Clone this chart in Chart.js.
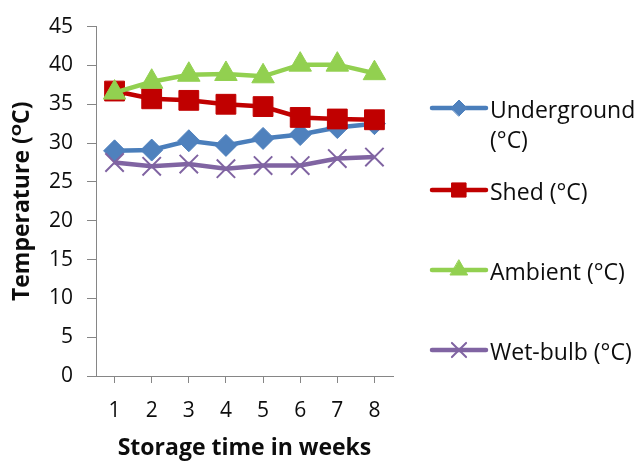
<!DOCTYPE html>
<html>
<head>
<meta charset="utf-8">
<script src="https://cdn.jsdelivr.net/npm/chart.js@4/dist/chart.umd.min.js"></script>
<style>
  html, body { margin: 0; padding: 0; background: #fff; }
  #wrap { width: 638px; height: 462px; }
</style>
</head>
<body>
<div id="wrap"><canvas id="c" width="638" height="462"></canvas></div>
<script>
// Storage temperatures per week
const weeks = ['1', '2', '3', '4', '5', '6', '7', '8'];
const underground = [29.0, 29.1, 30.3, 29.7, 30.6, 31.1, 32.0, 32.5];
const shed = [36.7, 35.7, 35.5, 35.0, 34.7, 33.3, 33.1, 33.0];
const ambient = [36.5, 37.9, 38.8, 38.9, 38.6, 40.1, 40.1, 39.0];
const wetBulb = [27.5, 27.0, 27.3, 26.7, 27.1, 27.1, 28.0, 28.2];
const seriesNames = ['Underground (°C)', 'Shed (°C)', 'Ambient (°C)', 'Wet-bulb (°C)'];
const legendLines = [['Underground', '(°C)'], ['Shed (°C)'], ['Ambient (°C)'], ['Wet-bulb (°C)']];
const yTitle = 'Temperature (ᴼC)';
const xTitle = 'Storage time in weeks';

const FONT = '"Open Sans", "DejaVu Sans", sans-serif';
const AXIS_GREY = '#868686';
const TEXT = '#0d0d0d';

const styles = [
  { line: '#4A7EBB', fill: '#4F81BD', point: 'rectRot', radius: 11, pointBorder: 1, legendRadius: 8 },
  { line: '#C00000', fill: '#C00000', point: 'rect', radius: 14, pointBorder: 1, legendRadius: 10 },
  { line: '#92D050', fill: '#92D050', point: 'triangle', radius: 13, pointBorder: 1, legendRadius: 10 },
  { line: '#8064A2', fill: '#8064A2', point: 'crossRot', radius: 13, pointBorder: 2, legendRadius: 10 }
];
const values = [underground, shed, ambient, wetBulb];

const datasets = values.map((v, i) => ({
  label: seriesNames[i],
  data: v,
  borderColor: styles[i].line,
  backgroundColor: styles[i].fill,
  borderWidth: 4.5,
  tension: 0,
  pointStyle: styles[i].point,
  pointRadius: styles[i].radius,
  pointHoverRadius: styles[i].radius,
  pointBackgroundColor: styles[i].fill,
  pointBorderColor: styles[i].fill,
  pointBorderWidth: styles[i].pointBorder,
  order: values.length - i
}));

// Legend drawn to the right of the plot
const sideLegend = {
  id: 'sideLegend',
  afterDraw(chart) {
    const ctx = chart.ctx;
    const rows = [108, 190, 270, 350];
    const x0 = 432, x1 = 486, tx = 490;
    ctx.save();
    rows.forEach((y, i) => {
      const s = styles[i];
      ctx.strokeStyle = s.line;
      ctx.lineWidth = 4.5;
      ctx.lineCap = 'round';
      ctx.beginPath();
      ctx.moveTo(x0, y);
      ctx.lineTo(x1, y);
      ctx.stroke();
      ctx.fillStyle = s.fill;
      ctx.strokeStyle = s.fill;
      ctx.lineWidth = s.pointBorder;
      Chart.helpers.drawPoint(ctx, {
        pointStyle: s.point, rotation: 0, radius: s.legendRadius, borderWidth: s.pointBorder
      }, (x0 + x1) / 2, y);
      ctx.fillStyle = TEXT;
      ctx.font = '23px ' + FONT;
      ctx.textAlign = 'left';
      ctx.textBaseline = 'middle';
      legendLines[i].forEach((t, k) => {
        ctx.fillText(t, tx, y + 3 + k * 30);
      });
    });
    ctx.restore();
  }
};

new Chart(document.getElementById('c'), {
  type: 'line',
  data: { labels: weeks, datasets },
  options: {
    responsive: false,
    animation: false,
    events: [],
    layout: { padding: { left: 0, top: 24, right: 245, bottom: 0 } },
    plugins: {
      legend: { display: false },
      tooltip: { enabled: false }
    },
    scales: {
      x: {
        offset: true,
        afterFit(scale) { scale.height = 86; },
        border: { color: AXIS_GREY, width: 1 },
        grid: { offset: false, drawOnChartArea: false, drawTicks: true, tickLength: 7, color: AXIS_GREY },
        ticks: { color: TEXT, font: { family: FONT, size: 21 }, padding: 15, maxRotation: 0 },
        title: {
          display: true, text: xTitle, color: TEXT,
          font: { family: FONT, size: 23, weight: 'bold' },
          padding: { top: 2, bottom: 0 }
        }
      },
      y: {
        min: 0, max: 45,
        afterFit(scale) { scale.width = 96; },
        border: { color: AXIS_GREY, width: 1 },
        grid: { drawOnChartArea: false, drawTicks: true, tickLength: 9, color: AXIS_GREY },
        ticks: { stepSize: 5, color: TEXT, font: { family: FONT, size: 21 }, padding: 14 },
        title: {
          display: true, text: yTitle, color: TEXT,
          font: { family: FONT, size: 23, weight: 'bold' },
          padding: { top: 9, bottom: 0 }
        }
      }
    }
  },
  plugins: [sideLegend]
});
</script>
</body>
</html>
